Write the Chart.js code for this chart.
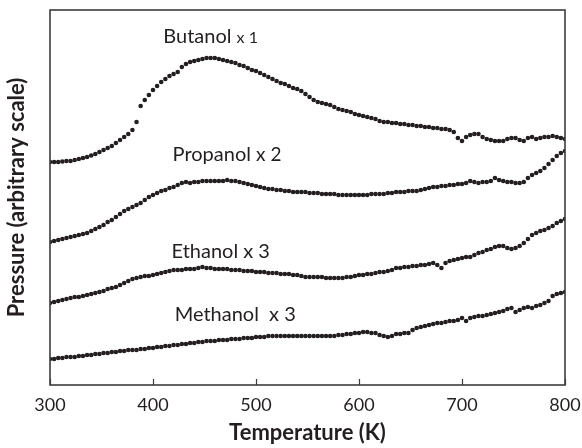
<!DOCTYPE html>
<html>
<head>
<meta charset="utf-8">
<script src="https://cdn.jsdelivr.net/npm/chart.js@4/dist/chart.umd.min.js"></script>
<style>
  html, body { margin: 0; padding: 0; background: #fff; }
  #wrap { width: 582px; height: 448px; }
</style>
</head>
<body>
<div id="wrap"><canvas id="c" width="582" height="448"></canvas></div>
<script>
// Temperature grid (K)
const temperatures = [300,304,308,312,316,320,324,328,332,336,340,344,348,352,356,360,364,368,372,376,380,384,388,392,396,400,404,408,412,416,420,424,428,432,436,440,444,448,452,456,460,464,468,472,476,480,484,488,492,496,500,504,508,512,516,520,524,528,532,536,540,544,548,552,556,560,564,568,572,576,580,584,588,592,596,600,604,608,612,616,620,624,628,632,636,640,644,648,652,656,660,664,668,672,676,680,684,688,692,696,700,704,708,712,716,720,724,728,732,736,740,744,748,752,756,760,764,768,772,776,780,784,788,792,796,800];

// Pressure, arbitrary scale (curves offset as in the figure)
const butanol = [223,223,223,223.5,224,224,225,226,227,228,
  229.5,231,233,235,237,239,242,245,248,251,
  255,263,279,285,290,295,299,303,306,309,
  311,313,318,321,323,324,325,326,327,327,
  327,326,325,324,323,322,320,319,317,315,
  314,312,310,308,306,304,302,301,299,297,
  296,294,291,288,285,283,282,281,280,278,
  276,275,274,273,271,270,269,268,267,266,
  264,263,263,262,262,261,261,260,260,259,
  259,258,258,257,257,256,256,255,253,247,
  244,248,250,251,251,248,246,245,244,244,
  244,246,247,247,245,244,247,248,246,247,
  248,248,249,248,247,246];

const propanol = [143,144,145,146,147,148,149,150,151,152,
  154,156,158,160,163,165,168,171,174,176,
  178,180,182,185,188,190,192,194,195,197,
  198,200,202,203,202,203,203,204,204,204,
  204,204,204,205,204,204,203,202,201,200,
  199,198,197,196,196,195,195,194,194,193,
  193,193,193,192,192,192,191,191,191,191,
  190,190,190,190,190,190,190,190,191,191,
  191,191,192,192,193,193,193,194,194,194,
  195,196,197,198,198,199,199,200,200,201,
  201,202,204,203,202,203,203,204,207,205,
  204,203,203,202,202,203,207,210,212,214,
  217,221,225,229,232,234];

const ethanol = [82,83,84,85,86,87,88,88,89,90,
  91,92,93,94,96,97,98,100,102,104,
  106,107,108,109,109,110,111,112,113,114,
  115,115,115,116,116,116,117,118,117,117,
  116,116,116,116,115,115,115,114,114,114,
  113,113,113,112,112,112,111,111,111,110,
  110,109,108,108,108,108,108,107,107,107,
  107,107,108,108,109,110,110,111,111,112,
  113,113,114,115,117,117,118,118,119,119,
  120,120,121,122,120,117,122,124,125,126,
  127,128,128,130,132,133,135,136,138,139,
  139,137,136,137,139,142,146,150,152,154,
  155,157,159,162,164,166];

const methanol = [26,26,27,27,28,28,28,29,29,30,
  30,31,31,32,32,33,33,34,34,35,
  35,35,36,36,37,37,38,38,39,39,
  40,40,41,41,42,42,43,43,44,44,
  44,45,45,45,46,46,46,47,47,47,
  48,48,48,49,49,49,49,49,49,49,
  49,49,49,49,49,49,49,49,49,49,
  50,50,51,51,52,52,53,53,52,52,
  50,49,48,49,51,51,52,52,55,57,
  58,59,60,61,62,62,63,64,64,65,
  67,64,67,68,69,69,70,71,72,73,
  74,76,77,73,75,77,78,77,79,80,
  82,84,89,91,92,93];

const seriesNames = ['Butanol', 'Propanol', 'Ethanol', 'Methanol'];
const seriesFactors = ['x 1', 'x 2', 'x 3', 'x 3'];
const xTicks = [300, 400, 500, 600, 700, 800];

const INK = '#231f20';
const FONT = 'Lato, "Open Sans", sans-serif';

function toPoints(vals) {
  return temperatures.map((t, i) => ({ x: t, y: vals[i] }));
}

const dotStyle = {
  showLine: false,
  pointRadius: 2.3,
  pointHoverRadius: 2.3,
  pointBackgroundColor: INK,
  pointBorderColor: INK,
  pointBorderWidth: 0,
  borderColor: INK,
  backgroundColor: INK
};

// Label placement (data coordinates) and styling
const labelPlacement = [
  { x: 410, y: 348, mainSize: 20, factorSize: 16, gap: ' ' },
  { x: 419, y: 230, mainSize: 20, factorSize: 19, gap: ' ' },
  { x: 418, y: 133, mainSize: 20, factorSize: 20, gap: ' ' },
  { x: 421, y: 70,  mainSize: 20, factorSize: 20, gap: '  ' }
];

const framePlugin = {
  id: 'frame',
  afterDraw(chart) {
    const { ctx, chartArea: a, scales } = chart;
    ctx.save();
    ctx.strokeStyle = '#3c3c3c';
    ctx.lineWidth = 1.6;
    ctx.strokeRect(a.left, a.top, a.right - a.left, a.bottom - a.top);
    // inward tick marks on the x axis
    ctx.lineWidth = 1.2;
    xTicks.forEach(v => {
      const px = Math.round(scales.x.getPixelForValue(v)) + 0.5;
      ctx.beginPath();
      ctx.moveTo(px, a.bottom);
      ctx.lineTo(px, a.bottom - 6);
      ctx.stroke();
    });
    // series labels
    ctx.fillStyle = INK;
    ctx.textBaseline = 'middle';
    ctx.textAlign = 'left';
    seriesNames.forEach((name, i) => {
      const p = labelPlacement[i];
      const px = scales.x.getPixelForValue(p.x);
      const py = scales.y.getPixelForValue(p.y);
      ctx.font = p.mainSize + 'px ' + FONT;
      ctx.fillText(name, px, py);
      const w = ctx.measureText(name + p.gap).width;
      ctx.font = p.factorSize + 'px ' + FONT;
      ctx.fillText(seriesFactors[i], px + w, py + (p.mainSize - p.factorSize) * 0.25);
    });
    ctx.restore();
  }
};

new Chart(document.getElementById('c'), {
  type: 'scatter',
  data: {
    datasets: [
      Object.assign({ label: seriesNames[0], data: toPoints(butanol) }, dotStyle),
      Object.assign({ label: seriesNames[1], data: toPoints(propanol) }, dotStyle),
      Object.assign({ label: seriesNames[2], data: toPoints(ethanol) }, dotStyle),
      Object.assign({ label: seriesNames[3], data: toPoints(methanol) }, dotStyle)
    ]
  },
  options: {
    responsive: false,
    animation: false,
    devicePixelRatio: 1,
    layout: { padding: { top: 10, right: 17, left: 0, bottom: 0 } },
    plugins: { legend: { display: false }, tooltip: { enabled: false } },
    scales: {
      x: {
        type: 'linear',
        min: 300,
        max: 800,
        afterBuildTicks(scale) { scale.ticks = xTicks.map(v => ({ value: v })); },
        afterFit(scale) { scale.height = 63; scale.paddingLeft = 0; scale.paddingRight = 0; },
        grid: { display: false, drawTicks: false },
        border: { display: false },
        ticks: { color: INK, padding: 9, font: { family: FONT, size: 18 }, maxRotation: 0 },
        title: {
          display: true,
          text: 'Temperature (K)',
          color: INK,
          font: { family: FONT, size: 22, weight: 'bold' },
          padding: { top: 0, bottom: 2 }
        }
      },
      y: {
        type: 'linear',
        min: 0,
        max: 375,
        afterFit(scale) { scale.width = 50; scale.paddingTop = 0; scale.paddingBottom = 0; },
        grid: { display: false, drawTicks: false },
        border: { display: false },
        ticks: { display: false },
        title: {
          display: true,
          text: 'Pressure (arbitrary scale)',
          color: INK,
          font: { family: FONT, size: 22, weight: 'bold' },
          padding: { top: 4, bottom: 0 }
        }
      }
    }
  },
  plugins: [framePlugin]
});
</script>
</body>
</html>
